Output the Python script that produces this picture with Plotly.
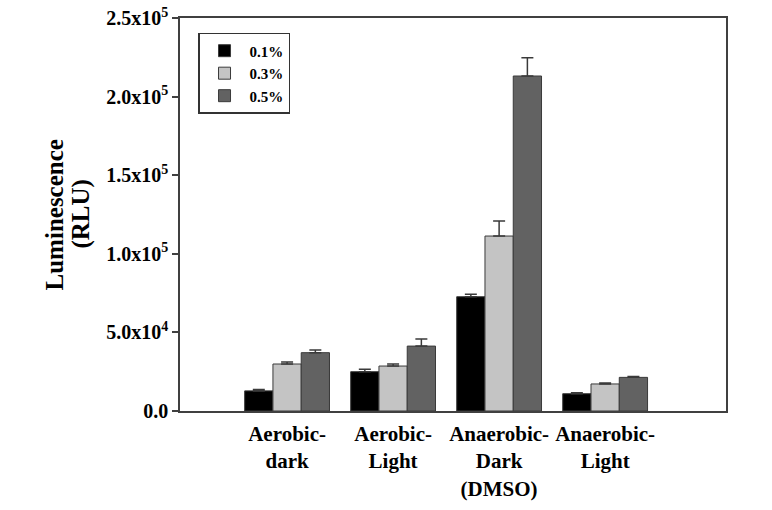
import plotly.graph_objects as go

categories = ["Aerobic-<br>dark", "Aerobic-<br>Light", "Anaerobic-<br>Dark<br>(DMSO)", "Anaerobic-<br>Light"]
series_names = ["0.1%", "0.3%", "0.5%"]
vals_01 = [12800, 25000, 72700, 11000]
err_01 = [800, 1500, 1600, 600]
vals_03 = [29900, 28600, 111300, 17200]
err_03 = [1300, 1300, 9500, 600]
vals_05 = [37100, 41300, 213100, 21400]
err_05 = [1700, 4500, 11600, 600]
colors = ["#000000", "#c4c4c4", "#626262"]

y_tickvals = [0, 50000, 100000, 150000, 200000, 250000]
y_ticktext = ["0.0", "5.0x10<sup>4</sup>", "1.0x10<sup>5</sup>", "1.5x10<sup>5</sup>",
              "2.0x10<sup>5</sup>", "2.5x10<sup>5</sup>"]
y_title_lines = ["Luminescence", "(RLU)"]

xpos = list(range(len(categories)))
font_family = "Liberation Serif"

fig = go.Figure()
for name, vals, errs, col in zip(series_names, [vals_01, vals_03, vals_05],
                                 [err_01, err_03, err_05], colors):
    fig.add_trace(go.Bar(
        x=xpos, y=vals, name=name,
        marker=dict(color=col, line=dict(color="#3a3a3a", width=1)),
        error_y=dict(type="data", array=errs, arrayminus=[0] * len(errs), symmetric=False,
                     color="#3a3a3a", thickness=1.5, width=6),
    ))

fig.update_layout(
    width=772, height=510,
    margin=dict(l=180, r=46, t=18, b=99),
    paper_bgcolor="white", plot_bgcolor="white",
    barmode="group", bargap=0.2, bargroupgap=0.0,
    font=dict(family=font_family, color="#000000", size=15),
    showlegend=True,
    legend=dict(
        x=0.033, y=0.962, xanchor="left", yanchor="top",
        bordercolor="#333333", borderwidth=1.5, bgcolor="white",
        font=dict(family=font_family, size=15, color="#000000", weight="bold"),
        tracegroupgap=0, itemwidth=40,
    ),
    xaxis=dict(
        range=[-1.01, 4.14], automargin=False,
        tickvals=xpos, ticktext=categories, ticklabelstandoff=3,
        showline=True, linecolor="#404040", linewidth=1.5, mirror=True,
        ticks="", showgrid=False, zeroline=False,
        tickfont=dict(family=font_family, size=21, color="#000000", weight="bold"),
    ),
    yaxis=dict(
        range=[0, 250000], automargin=False,
        tickvals=y_tickvals, ticktext=y_ticktext,
        showline=True, linecolor="#404040", linewidth=1.5, mirror=True,
        ticks="outside", ticklen=6, tickwidth=1.5, tickcolor="#404040",
        showgrid=False, zeroline=False,
        tickfont=dict(family=font_family, size=20, color="#000000", weight="bold"),
    ),
    annotations=[
        dict(text="<b>%s</b>" % y_title_lines[0], xref="paper", yref="paper",
             x=-0.229, y=0.50, xanchor="center", yanchor="middle", textangle=-90,
             showarrow=False, font=dict(family=font_family, size=25, color="#000000")),
        dict(text="<b>%s</b>" % y_title_lines[1], xref="paper", yref="paper",
             x=-0.183, y=0.50, xanchor="center", yanchor="middle", textangle=-90,
             showarrow=False, font=dict(family=font_family, size=25, color="#000000")),
    ],
)

fig.write_html("out.html", config={"displayModeBar": False},
               post_script="document.body.style.margin='0';document.body.style.padding='0';")
